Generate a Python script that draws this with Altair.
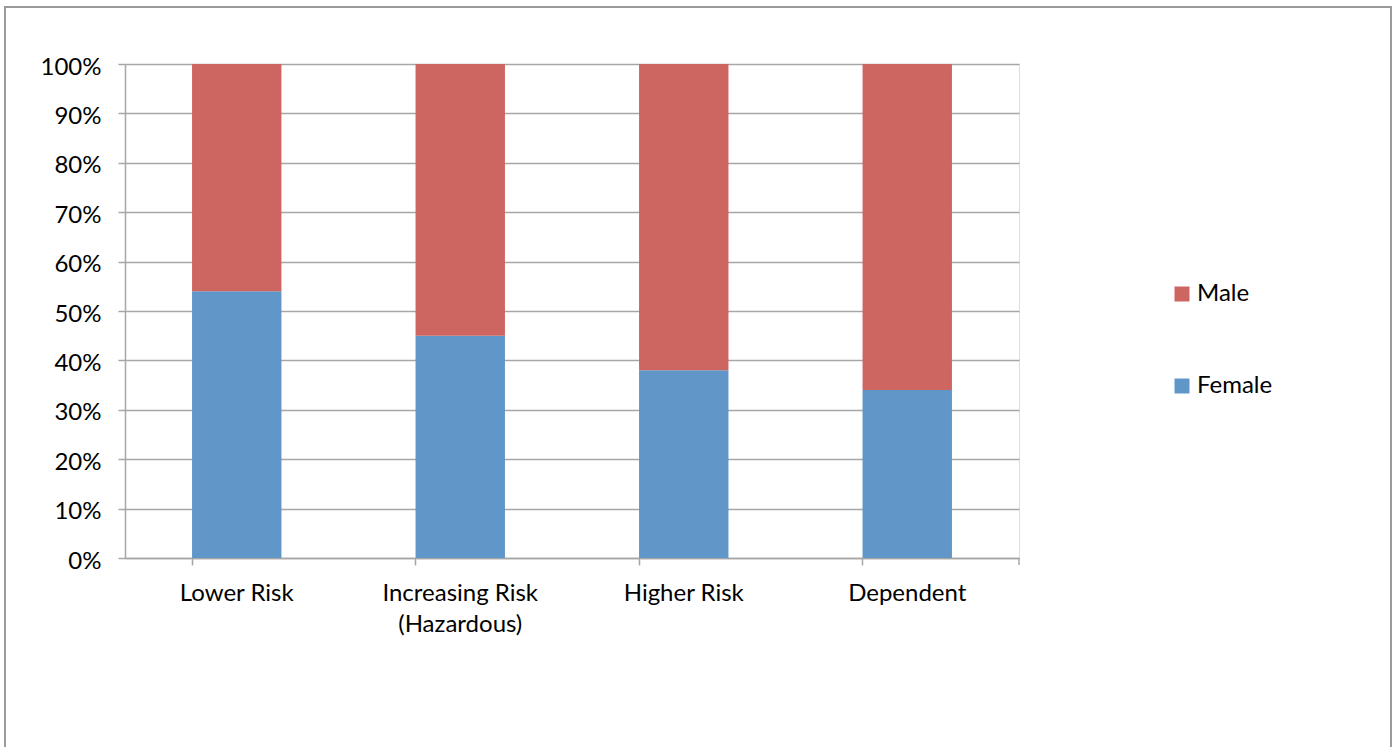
import altair as alt
import pandas as pd

categories = ["Lower Risk", "Increasing Risk\n(Hazardous)", "Higher Risk", "Dependent"]
female = [54, 45, 38, 34]
male = [46, 55, 62, 66]
series = ["Male", "Female"]
colors = ["#CD6660", "#6196C8"]

rows = []
for c, f, m in zip(categories, female, male):
    rows.append({"cat": c, "sex": "Female", "val": f, "ord": 0})
    rows.append({"cat": c, "sex": "Male", "val": m, "ord": 1})
df = pd.DataFrame(rows)

FONT = "Lato"
GRID = "#A6A6A6"
W, H = 894, 494
PL, PT = 125, 64

bars = alt.Chart(df).mark_bar(stroke=None).encode(
    x=alt.X("cat:N", sort=categories, title=None,
            scale=alt.Scale(paddingInner=0.6, paddingOuter=0.3),
            axis=alt.Axis(labelAngle=0, bandPosition=0, labelExpr="split(datum.label, '\\n')",
                          labelFontSize=24, labelFont=FONT, labelColor="#000000",
                          labelPadding=16, labelLineHeight=31, tickSize=7, tickColor=GRID,
                          tickWidth=1.5, domainColor=GRID, domainWidth=1.5, grid=False)),
    y=alt.Y("val:Q", stack="normalize", title=None,
            scale=alt.Scale(domain=[0, 1]),
            axis=alt.Axis(format=".0%", values=[i / 10 for i in range(11)],
                          labelFontSize=24, labelFont=FONT, labelColor="#000000",
                          labelPadding=17, labelOffset=3, tickSize=7, tickColor=GRID, tickWidth=1.5,
                          domainColor=GRID, domainWidth=1.5, grid=True, gridColor=GRID,
                          gridWidth=1.5)),
    color=alt.Color("sex:N", scale=alt.Scale(domain=series, range=colors),
                    legend=alt.Legend(title=None, orient="none", legendX=1045, legendY=218,
                                      symbolType="square", symbolSize=225, symbolStrokeWidth=0,
                                      labelFontSize=24, labelFont=FONT, labelColor="#000000",
                                      labelOffset=3, rowPadding=68, padding=0)),
    order=alt.Order("ord:Q"),
)

frame_df = pd.DataFrame({"a": [0]})
frame = alt.Chart(frame_df).mark_rect(fill="transparent", stroke="#9A9A9A", strokeWidth=2).encode(
    x=alt.value(5 - PL), x2=alt.value(1391 - PL), y=alt.value(7 - PT), y2=alt.value(800 - PT)
)
end_tick = alt.Chart(frame_df).mark_rule(color=GRID, strokeWidth=1.5).encode(
    x=alt.value(W), y=alt.value(H), y2=alt.value(H + 7)
)

chart = alt.layer(frame, bars, end_tick).properties(
    width=W, height=H,
    autosize=alt.AutoSizeParams(type="none"),
    padding={"left": PL, "top": PT, "right": 1397 - PL - W, "bottom": 747 - PT - H},
).configure_view(stroke=None).configure(background="white")

chart.save("out.html", embed_options={"renderer": "svg", "actions": False})
